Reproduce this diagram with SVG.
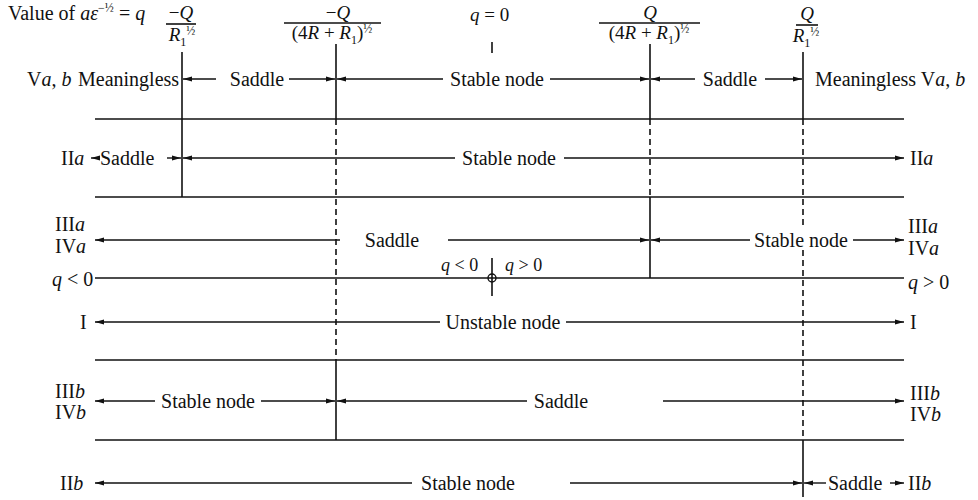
<svg xmlns="http://www.w3.org/2000/svg" width="978" height="500" viewBox="0 0 978 500">
<style>
text{font-family:"Liberation Serif","Times New Roman",serif;font-size:20px;fill:#111}
.h{font-size:19px}
.i{font-style:italic}
.sm{font-size:12px}
.ln{stroke:#111;stroke-width:1.6;fill:none}
.ar{stroke:#111;stroke-width:1.4;fill:none;marker-start:url(#ah);marker-end:url(#ah)}
.ae{stroke:#111;stroke-width:1.4;fill:none;marker-end:url(#ah)}
.as{stroke:#111;stroke-width:1.4;fill:none;marker-start:url(#ah)}
.d{stroke:#111;stroke-width:1.6;fill:none;stroke-dasharray:6 4}
.m{text-anchor:middle}
</style>
<defs>
<marker id="ah" viewBox="0 0 9 6" refX="9" refY="3" markerWidth="9" markerHeight="6" markerUnits="userSpaceOnUse" orient="auto-start-reverse">
<path d="M0,0.6 L9,3 L0,5.4 z" fill="#111"/>
</marker>
</defs>

<g id="header">
<text x="8" y="20">Value of <tspan class="i">aε</tspan><tspan class="sm" dy="-8">−½</tspan><tspan dy="8"> = </tspan><tspan class="i">q</tspan></text>
<g id="f1">
<text class="h m" x="181" y="19">−<tspan class="i">Q</tspan></text>
<line class="ln" x1="166" y1="24" x2="196" y2="24" stroke-width="1.2"/>
<text class="h m" x="182" y="41"><tspan class="i">R</tspan><tspan class="sm" dy="5">1</tspan><tspan class="sm" dy="-11">½</tspan></text>
</g>
<g id="f2">
<text class="h m" x="338" y="19">−<tspan class="i">Q</tspan></text>
<line class="ln" x1="284" y1="23" x2="381" y2="23" stroke-width="1.2"/>
<text class="h m" x="332" y="39">(4<tspan class="i">R</tspan> + <tspan class="i">R</tspan><tspan class="sm" dy="5">1</tspan><tspan dy="-5">)</tspan><tspan class="sm" dy="-6">½</tspan></text>
</g>
<g id="f0">
<text class="h" x="470" y="21"><tspan class="i">q</tspan> = 0</text>
<line class="ln" x1="492" y1="42" x2="492" y2="53"/>
</g>
<g id="f3">
<text class="h m" x="650" y="19"><tspan class="i">Q</tspan></text>
<line class="ln" x1="599" y1="23" x2="700" y2="23" stroke-width="1.2"/>
<text class="h m" x="649" y="39">(4<tspan class="i">R</tspan> + <tspan class="i">R</tspan><tspan class="sm" dy="5">1</tspan><tspan dy="-5">)</tspan><tspan class="sm" dy="-6">½</tspan></text>
</g>
<g id="f4">
<text class="h m" x="807" y="20"><tspan class="i">Q</tspan></text>
<line class="ln" x1="796" y1="25" x2="818" y2="25" stroke-width="1.2"/>
<text class="h m" x="806" y="42"><tspan class="i">R</tspan><tspan class="sm" dy="5">1</tspan><tspan class="sm" dy="-11">½</tspan></text>
</g>
</g>

<g id="boundaries">
<line class="ln" x1="182" y1="52" x2="182" y2="197"/>
<line class="ln" x1="336" y1="44" x2="336" y2="119"/>
<line class="d" x1="336" y1="119" x2="336" y2="360"/>
<line class="ln" x1="336" y1="360" x2="336" y2="440"/>
<line class="ln" x1="650" y1="44" x2="650" y2="119"/>
<line class="d" x1="650" y1="119" x2="650" y2="197"/>
<line class="ln" x1="650" y1="197" x2="650" y2="278"/>
<line class="ln" x1="803" y1="52" x2="803" y2="119"/>
<line class="d" x1="803" y1="119" x2="803" y2="228"/>
<line class="d" x1="803" y1="250" x2="803" y2="440"/>
<line class="ln" x1="803" y1="440" x2="803" y2="497"/>
</g>

<g id="separators">
<line class="ln" x1="95" y1="119" x2="904" y2="119"/>
<line class="ln" x1="95" y1="197" x2="904" y2="197"/>
<line class="ln" x1="95" y1="278" x2="904" y2="278"/>
<line class="ln" x1="95" y1="360" x2="904" y2="360"/>
<line class="ln" x1="95" y1="440" x2="904" y2="440"/>
</g>

<g id="row-V">
<text x="27" y="86">V<tspan class="i">a</tspan>, <tspan class="i">b</tspan></text>
<text x="78" y="86">Meaningless</text>
<line class="as" x1="183" y1="79" x2="216" y2="79"/>
<text class="m" x="257" y="86">Saddle</text>
<line class="ae" x1="289" y1="79" x2="335" y2="79"/>
<line class="as" x1="337" y1="79" x2="443" y2="79"/>
<text class="m" x="497" y="86">Stable node</text>
<line class="ae" x1="550" y1="79" x2="649" y2="79"/>
<line class="as" x1="651" y1="79" x2="695" y2="79"/>
<text class="m" x="730" y="86">Saddle</text>
<line class="ae" x1="765" y1="79" x2="802" y2="79"/>
<text x="815" y="86">Meaningless V<tspan class="i">a</tspan>, <tspan class="i">b</tspan></text>
</g>

<g id="row-IIa">
<text x="61" y="165">II<tspan class="i">a</tspan></text>
<line class="as" x1="91" y1="158" x2="99" y2="158"/>
<text x="100" y="165">Saddle</text>
<line class="ae" x1="167" y1="158" x2="181" y2="158"/>
<line class="as" x1="183" y1="158" x2="455" y2="158"/>
<text class="m" x="509" y="165">Stable node</text>
<line class="ae" x1="564" y1="158" x2="904" y2="158"/>
<text x="910" y="165">II<tspan class="i">a</tspan></text>
</g>

<g id="row-IIIa">
<text x="55" y="231">III<tspan class="i">a</tspan></text>
<text x="55" y="253">IV<tspan class="i">a</tspan></text>
<line class="as" x1="95" y1="240" x2="340" y2="240"/>
<text class="m" x="392" y="247">Saddle</text>
<line class="ae" x1="448" y1="240" x2="649" y2="240"/>
<line class="as" x1="651" y1="240" x2="750" y2="240"/>
<text class="m" x="801" y="247">Stable node</text>
<line class="ae" x1="853" y1="240" x2="904" y2="240"/>
<text x="908" y="233">III<tspan class="i">a</tspan></text>
<text x="908" y="255">IV<tspan class="i">a</tspan></text>
</g>

<g id="row-q">
<text x="52" y="286"><tspan class="i">q</tspan> &lt; 0</text>
<text x="908" y="289"><tspan class="i">q</tspan> &gt; 0</text>
<text x="441" y="271" style="font-size:18px"><tspan class="i">q</tspan> &lt; 0</text>
<text x="505" y="271" style="font-size:18px"><tspan class="i">q</tspan> &gt; 0</text>
<line class="ln" x1="492" y1="258" x2="492" y2="296" stroke-width="1.3"/>
<circle cx="492" cy="278" r="4" fill="none" stroke="#111" stroke-width="1.4"/>
</g>

<g id="row-I">
<text x="80" y="329">I</text>
<line class="as" x1="95" y1="322" x2="440" y2="322"/>
<text class="m" x="503" y="329">Unstable node</text>
<line class="ae" x1="566" y1="322" x2="904" y2="322"/>
<text x="910" y="329">I</text>
</g>

<g id="row-IIIb">
<text x="55" y="398">III<tspan class="i">b</tspan></text>
<text x="55" y="419">IV<tspan class="i">b</tspan></text>
<line class="as" x1="95" y1="401" x2="155" y2="401"/>
<text class="m" x="208" y="408">Stable node</text>
<line class="ae" x1="261" y1="401" x2="335" y2="401"/>
<line class="as" x1="337" y1="401" x2="527" y2="401"/>
<text class="m" x="561" y="408">Saddle</text>
<line class="ae" x1="663" y1="401" x2="904" y2="401"/>
<text x="910" y="400">III<tspan class="i">b</tspan></text>
<text x="910" y="421">IV<tspan class="i">b</tspan></text>
</g>

<g id="row-IIb">
<text x="60" y="490">II<tspan class="i">b</tspan></text>
<line class="as" x1="95" y1="483" x2="412" y2="483"/>
<text class="m" x="468" y="490">Stable node</text>
<line class="ae" x1="570" y1="483" x2="802" y2="483"/>
<line class="as" x1="804" y1="483" x2="826" y2="483"/>
<text x="828" y="490">Saddle</text>
<line class="ae" x1="890" y1="483" x2="904" y2="483"/>
<text x="908" y="490">II<tspan class="i">b</tspan></text>
</g>
</svg>
